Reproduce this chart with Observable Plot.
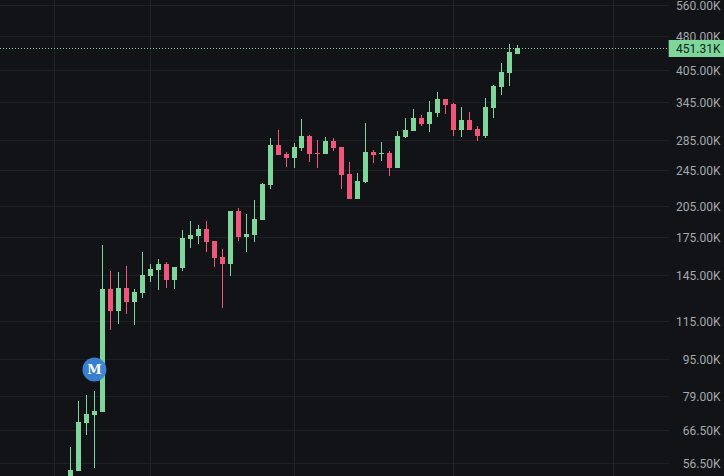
<!DOCTYPE html>
<html>
<head>
<meta charset="utf-8">
<script src="https://cdn.jsdelivr.net/npm/d3@7"></script>
<script src="https://cdn.jsdelivr.net/npm/@observablehq/plot@0.6"></script>
<style>
html,body{margin:0;padding:0;background:#111316;overflow:hidden}
svg{display:block}
</style>
</head>
<body>
<div id="chart"></div>
<script>
// prices in thousands
const opens = [51.9,54.4,69.1,71.8,73.0,135.2,121.0,135.9,126.6,132.5,144.1,148.6,153.1,
141.3,150.1,173.6,176.2,182.4,171.9,158.6,153.1,199.7,175.3,177.1,190.9,227.5,
277.8,265.6,260.3,273.7,290.6,266.9,265.6,283.5,275.0,240.4,212.1,230.9,268.2,
265.6,266.9,247.6,289.2,298.0,318.0,308.4,326.0,349.9,341.1,299.5,314.8,301.0,
290.6,334.4,371.4,398.6,438.2];
const highs = [61.1,77.1,79.5,81.1,168.4,147.9,147.1,151.6,135.2,162.6,153.1,157.0,154.6,
150.8,181.5,190.0,186.2,190.0,171.9,165.0,199.7,202.7,196.8,211.0,229.8,287.7,
299.5,268.2,280.6,316.4,292.1,284.9,289.2,287.7,275.0,255.1,241.5,310.0,270.9,
282.0,269.6,298.0,318.0,332.7,322.9,346.3,362.3,349.9,342.9,336.1,327.6,305.4,
351.5,375.2,418.9,460.4,458.2];
const lows = [49.4,54.4,65.1,55.2,73.0,110.0,113.4,119.2,112.8,129.2,139.9,134.5,135.9,
135.2,147.9,165.8,169.4,162.6,150.8,122.9,144.1,171.9,162.6,171.0,190.9,222.9,
264.3,248.9,247.6,269.6,255.1,247.6,265.6,269.6,222.9,212.1,212.1,229.8,253.8,
256.4,237.8,247.6,287.7,298.0,305.4,296.5,319.6,324.4,290.6,289.2,299.5,283.5,
287.7,318.0,357.0,373.3,438.2];
const closes = [54.6,69.5,72.2,73.3,135.2,121.0,135.9,126.6,133.2,144.9,149.3,153.1,141.3,
150.8,174.4,177.1,182.4,171.0,157.8,153.1,199.7,175.3,178.0,191.9,228.7,277.8,
264.3,260.3,275.0,290.6,265.6,265.6,283.5,273.7,239.1,212.1,232.1,268.2,264.3,
266.9,247.6,290.6,299.5,318.0,308.4,327.6,349.9,339.4,299.5,314.8,299.5,290.6,
336.1,373.3,400.5,442.6,451.31];

const tickValues = [560,480,405,345,285,245,205,175,145,115,95,79,66.5,56.5];
const gridSlots = [-2,10,28,48,68];
const lastPrice = 451.31;
const milestone = {slot:3, price:90.5, label:"M"};
const gridEnd = 75;
const tagStart = 75;
const xDomain = [-8.77,81.93];
const yDomain = [574.2,52.95];

const UP = "#7fd69b", DOWN = "#f0567a", BLUE = "#3b85d9";
const candles = opens.map((o,i)=>({i,o,h:highs[i],l:lows[i],c:closes[i]}));
const col = d => d.c >= d.o ? UP : DOWN;
const fmt = d => d.toFixed(2) + "K";

const chart = Plot.plot({
  width:724, height:476,
  margin:0,
  style:{background:"#111316", fontFamily:"Roboto, sans-serif", fontSize:"12px"},
  x:{type:"linear", domain:xDomain, range:[0,724], axis:null},
  y:{type:"log", domain:yDomain, range:[0,476], axis:null},
  marks:[
    Plot.ruleY(tickValues,{y:d=>d, x1:xDomain[0], x2:gridEnd, stroke:"#1e2023", strokeWidth:1, shapeRendering:"crispEdges"}),
    Plot.ruleX(gridSlots,{x:d=>d, stroke:"#232528", strokeWidth:1, shapeRendering:"crispEdges"}),
    Plot.ruleY([lastPrice],{y:d=>d, x1:xDomain[0], x2:tagStart, stroke:UP, strokeWidth:1, strokeDasharray:"1,2", shapeRendering:"crispEdges"}),
    Plot.ruleX(candles,{x:"i", y1:"l", y2:"h", stroke:col, strokeWidth:1, clip:true, shapeRendering:"crispEdges"}),
    Plot.ruleX(candles,{x:"i", y1:"o", y2:"c", stroke:col, strokeWidth:5, clip:true, shapeRendering:"crispEdges"}),
    Plot.dot([milestone],{x:"slot", y:"price", r:12, fill:BLUE, fillOpacity:0.95}),
    Plot.text([milestone],{x:"slot", y:"price", text:"label", fill:"#fff", fontFamily:"DejaVu Serif, serif", fontWeight:"bold", fontSize:13}),
    Plot.axisY(tickValues,{anchor:"right", label:null, tickSize:0, tickPadding:0, textAnchor:"end", dx:-4, dy:0.6, tickFormat:fmt, fill:"#a6a8ad", stroke:null, fontSize:12}),
    Plot.ruleY([lastPrice],{y:d=>d, x1:tagStart, x2:xDomain[1], stroke:UP, strokeWidth:17}),
    Plot.text([lastPrice],{y:d=>d, frameAnchor:"right", textAnchor:"end", dx:-4, dy:0.6, text:fmt, fill:"#10231a", fontSize:12})
  ]
});
document.getElementById("chart").append(chart);
</script>
</body>
</html>
